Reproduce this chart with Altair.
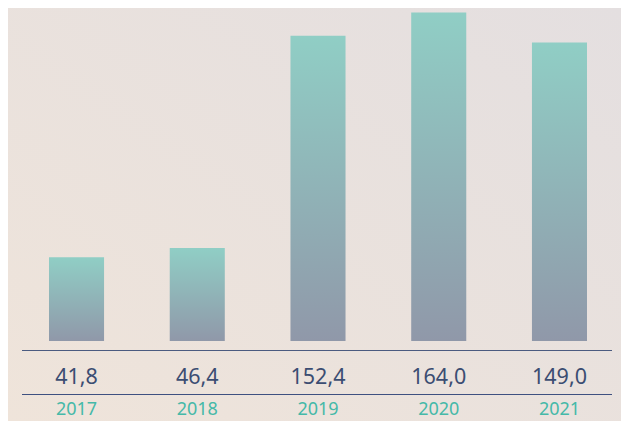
import altair as alt
import pandas as pd

years = ["2017", "2018", "2019", "2020", "2021"]
values = [41.8, 46.4, 152.4, 164.0, 149.0]
labels = [f"{v:.1f}".replace(".", ",") for v in values]

df = pd.DataFrame({"year": years, "value": values, "label": labels})
bg_df = pd.DataFrame({"k": [0]})
rule_df = pd.DataFrame({"k": [0]})

W, H = 613, 413

x_scale = alt.Scale(domain=years, range=[41, 579], paddingInner=0.544, paddingOuter=0)
y_scale = alt.Scale(domain=[0, 166.2], range=[333, 0])

bar_grad = alt.Gradient(
    gradient="linear",
    stops=[alt.GradientStop(color="#90cec5", offset=0),
           alt.GradientStop(color="#9098a9", offset=1)],
    x1=0, x2=0, y1=0, y2=1,
)
bg_grad = alt.Gradient(
    gradient="linear",
    stops=[alt.GradientStop(color="#efe4da", offset=0),
           alt.GradientStop(color="#e4dfe0", offset=1)],
    x1=0, y1=1, x2=1, y2=0,
)

bg = alt.Chart(bg_df).mark_rect(fill=bg_grad).encode(
    x=alt.value(0), x2=alt.value(W), y=alt.value(0), y2=alt.value(H)
)

bars = alt.Chart(df).mark_bar(fill=bar_grad, cornerRadius=0).encode(
    x=alt.X("year:N", scale=x_scale, axis=None),
    y=alt.Y("value:Q", scale=y_scale, axis=None),
)

vals = alt.Chart(df).mark_text(
    font="Noto Sans", fontSize=21.5, color="#3b4d72", baseline="middle", align="center"
).encode(
    x=alt.X("year:N", scale=x_scale, axis=None),
    y=alt.value(369.5),
    text="label:N",
)

yrs = alt.Chart(df).mark_text(
    font="Noto Sans", fontSize=18, color="#45b9a8", baseline="middle", align="center"
).encode(
    x=alt.X("year:N", scale=x_scale, axis=None),
    y=alt.value(401.5),
    text="year:N",
)

rule1 = alt.Chart(rule_df).mark_rule(color="#4b5b80", strokeWidth=1.2).encode(
    x=alt.value(14), x2=alt.value(604), y=alt.value(342.5)
)
rule2 = alt.Chart(rule_df).mark_rule(color="#3e5080", strokeWidth=1.2).encode(
    x=alt.value(14), x2=alt.value(604), y=alt.value(386.5)
)

chart = alt.layer(bg, bars, vals, yrs, rule1, rule2).properties(
    width=W, height=H, padding=0, autosize=alt.AutoSizeParams(type="none"),
    background="#e9e1dc",
).configure_view(stroke=None)

chart.save("out.html", embed_options={"renderer": "svg", "actions": False})
